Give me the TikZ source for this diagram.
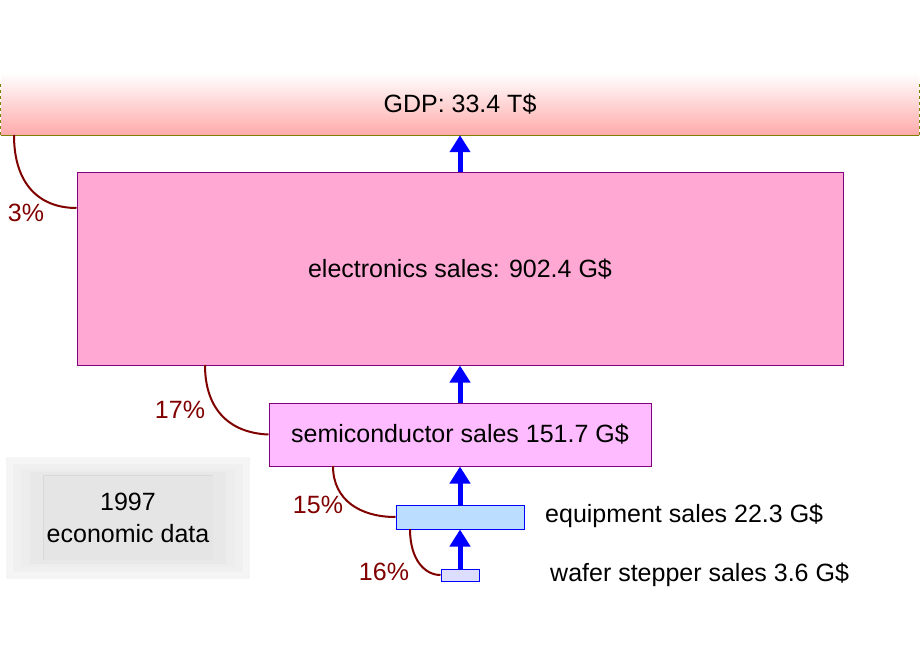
\documentclass[tikz,border=0pt]{standalone}
\usepackage{fontspec}
\setmainfont{Liberation Sans}
\usetikzlibrary{arrows.meta}
\definecolor{olive}{HTML}{808000}
\definecolor{gdpbot}{HTML}{FFAAAA}
\definecolor{elecfill}{HTML}{FFA8D4}
\definecolor{semifill}{HTML}{FFBBFF}
\definecolor{boxborder}{HTML}{800080}
\definecolor{equipfill}{HTML}{BBDDFF}
\definecolor{waferfill}{HTML}{DDDDFF}
\definecolor{pctred}{HTML}{800000}
\begin{document}
\begin{tikzpicture}[x=1pt,y=-1pt,
  every node/.style={font=\fontsize{25}{30}\selectfont, inner sep=0pt},
  salesbox/.style={draw=boxborder, line width=1pt, rectangle},
  toolbox/.style={draw=blue, line width=1pt, rectangle},
  flow/.style={blue, line width=5pt, -{Triangle[width=20pt,length=17pt]}},
  share/.style={pctred, line width=2pt},
  pct/.style={text=pctred}]
\useasboundingbox (0,0) rectangle (920,660);
% GDP
\node[rectangle, minimum width=918pt, minimum height=62pt, top color=white, bottom color=gdpbot] (gdp) at (460,104) {GDP: 33.4 T\$};
\draw[olive, line width=1pt] (gdp.south west) -- (gdp.south east);
\draw[olive, line width=1pt, dashed] ([yshift=-11pt]gdp.north west) -- (gdp.south west);
\draw[olive, line width=1pt, dashed] ([yshift=-11pt]gdp.north east) -- (gdp.south east);
% electronics
\node[salesbox, fill=elecfill, minimum width=766pt, minimum height=192pt] (elec) at (460,269) {electronics sales: 902.4 G\$};
% semiconductor
\node[salesbox, fill=semifill, minimum width=382pt, minimum height=63pt] (semi) at (460,434.5) {semiconductor sales 151.7 G\$};
% equipment
\node[toolbox, fill=equipfill, minimum width=128pt, minimum height=24pt] (equip) at (460,517) {};
\node[anchor=west] (equiptext) at (545,516) {equipment sales 22.3 G\$};
% wafer stepper
\node[toolbox, fill=waferfill, minimum width=38pt, minimum height=12pt] (wafer) at (460,575) {};
\node[anchor=west] (wafertext) at (550,575) {wafer stepper sales 3.6 G\$};
% arrows
\draw[flow] (elec.north) -- (gdp.south);
\draw[flow] (semi.north) -- (elec.south);
\draw[flow] (equip.north) -- (semi.south);
\draw[flow] (wafer.north) -- (equip.south);
% share curves
\coordinate (c1) at (14,135);
\coordinate (c2) at (205,365);
\coordinate (c3) at (333,466);
\coordinate (c4) at (410,529);
\draw[share] (c1) .. controls (14,185) and (40,208) .. (elec.west |- 0,208);
\draw[share] (c2) .. controls (205,410) and (230,433) .. (semi.west);
\draw[share] (c3) .. controls (333,500) and (360,517) .. (equip.west);
\draw[share] (c4) .. controls (410,560) and (425,575) .. (wafer.west);
\node[pct] (p3) at (26,213) {3\%};
\node[pct] (p17) at (180,410) {17\%};
\node[pct] (p15) at (318,505) {15\%};
\node[pct] (p16) at (384,572) {16\%};
% 1997 box
\fill[black!4] (6,457) rectangle (250,579);
\fill[black!6] (13,464) rectangle (243,572);
\fill[black!7] (21,469) rectangle (235,567);
\fill[black!9] (30,472) rectangle (226,564);
\fill[black!10] (43,475) rectangle (213,560);
\draw[white!85!black, line width=0.6pt] (43,560) -- (43,475) -- (213,475);
\node[align=center, font=\fontsize{25}{32}\selectfont] (year) at (128,518) {1997\\economic data};
\end{tikzpicture}
\end{document}
